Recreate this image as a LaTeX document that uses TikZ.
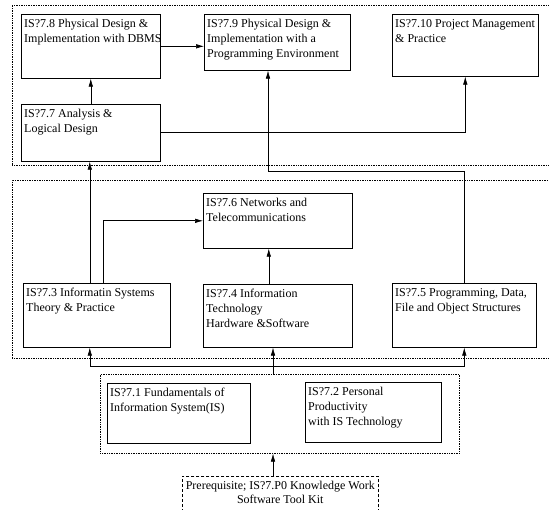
\documentclass[tikz,border=0pt]{standalone}
\usepackage{fontspec}
\setmainfont{Liberation Serif}
\usetikzlibrary{arrows.meta,positioning}

\begin{document}
\begin{tikzpicture}[
  x=1pt,y=-1pt,
  dims/.style 2 args={minimum width=#1pt, minimum height=#2pt},
  unit/.style={draw=black, line width=0.6pt, anchor=north west, inner sep=0pt},
  caption/.style={anchor=north west, align=left, inner xsep=3pt, inner ysep=5pt,
    font=\fontsize{12}{15}\selectfont},
  group/.style={draw=black, line width=0.6pt, dash pattern=on 0.8pt off 0.9pt,
    anchor=north west, inner sep=0pt},
  prereq/.style={unit, dash pattern=on 3pt off 2pt},
  wire/.style={line width=0.6pt, draw=black},
  link/.style={wire, -{Latex[length=8pt,width=4.5pt]}}
]
\clip (0,0) rectangle (549,510);

% groups
\node[group, dims={540}{160}] (grpC) at (12,5) {};
\node[group, dims={540}{178}] (grpB) at (12,180) {};
\node[group, dims={359}{79}] (grpA) at (100,374) {};

% upper level
\node[unit, dims={139}{64}] (u78) at (21,14) {};
\node[caption] (u78t) at (u78.north west)
  {IS?7.8 Physical Design \&\\Implementation with DBMS};
\node[unit, dims={146}{56}] (u79) at (204,14) {};
\node[caption] (u79t) at (u79.north west)
  {IS?7.9 Physical Design \&\\Implementation with a\\Programming Environment};
\node[unit, dims={146}{62}] (u710) at (392,14) {};
\node[caption] (u710t) at (u710.north west)
  {IS?7.10 Project Management\\\& Practice};
\node[unit, dims={139}{57}] (u77) at (21,104) {};
\node[caption] (u77t) at (u77.north west)
  {IS?7.7 Analysis \&\\Logical Design};

% middle level
\node[unit, dims={149}{55}] (u76) at (203,193) {};
\node[caption] (u76t) at (u76.north west)
  {IS?7.6 Networks and\\Telecommunications};
\node[unit, dims={147}{64}] (u73) at (23,283) {};
\node[caption] (u73t) at (u73.north west)
  {IS?7.3 Informatin Systems\\Theory \& Practice};
\node[unit, dims={149}{63}] (u74) at (203,284) {};
\node[caption] (u74t) at (u74.north west)
  {IS?7.4 Information\\Technology\\Hardware \&Software};
\node[unit, dims={144}{64}] (u75) at (392,283) {};
\node[caption] (u75t) at (u75.north west)
  {IS?7.5 Programming, Data,\\File and Object Structures};

% lower level
\node[unit, dims={143}{60}] (u71) at (107,383) {};
\node[caption] (u71t) at (u71.north west)
  {IS?7.1 Fundamentals of\\Information System(IS)};
\node[unit, dims={136}{60}] (u72) at (305,382) {};
\node[caption] (u72t) at (u72.north west)
  {IS?7.2 Personal\\Productivity\\with IS Technology};

\node[prereq, dims={196}{60}] (pre) at (182,476) {};
\node[anchor=north, align=center, inner ysep=5pt,
  font=\fontsize{12}{14}\selectfont] (pret) at (pre.north)
  {Prerequisite; IS?7.P0 Knowledge Work\\Software Tool Kit};

% connectors
\draw[link] (u78.east) -- (u78.east -| u79.west);
\draw[link] (u77) -- (u78);
\draw[link] (u77.east) -| (u710.south);
\coordinate (bend) at (268,171);
\draw[link] (u75.north) |- (bend) -- (bend |- u79.south);
\draw[link] ([xshift=-7pt]u73.north) -- ([xshift=-7pt]u73.north |- u77.south);
\draw[link] ([xshift=6pt]u73.north) |- (u76.west);
\draw[link] ([xshift=-9pt]u74.north) -- ([xshift=-9pt]u74.north |- u76.south);
\coordinate (bus) at (273,366);
\draw[wire] (grpA.north -| bus) -- (bus);
\draw[link] (bus) -| ([xshift=-7pt]u73.south);
\draw[link] (bus) -- (bus |- u74.south);
\draw[link] (bus) -| (u75.south);
\draw[link] (pre.north -| bus) -- (grpA.south -| bus);
\end{tikzpicture}
\end{document}
